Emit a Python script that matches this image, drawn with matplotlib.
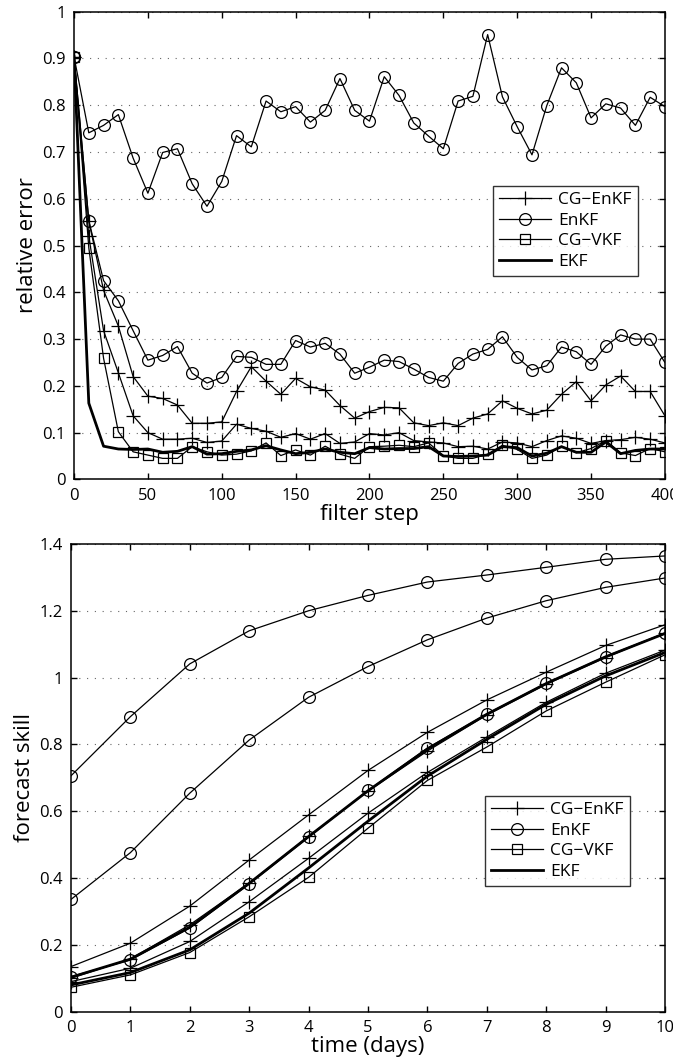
import matplotlib
matplotlib.use('Agg')
import matplotlib.pyplot as plt
import numpy as np

plt.rcParams['font.family'] = ['Open Sans', 'DejaVu Sans']

# ---- top panel: relative error vs filter step ----
steps = np.arange(0, 401, 10)

enkf_a = [0.904, 0.741, 0.757, 0.780, 0.687, 0.612, 0.699, 0.707, 0.632, 0.584,
          0.637, 0.735, 0.711, 0.809, 0.786, 0.797, 0.764, 0.789, 0.857, 0.789,
          0.766, 0.861, 0.821, 0.762, 0.734, 0.707, 0.809, 0.819, 0.951, 0.818,
          0.754, 0.694, 0.799, 0.880, 0.848, 0.773, 0.803, 0.794, 0.757, 0.817,
          0.797]
enkf_b = [0.904, 0.553, 0.425, 0.382, 0.318, 0.255, 0.265, 0.284, 0.227, 0.206,
          0.218, 0.263, 0.261, 0.246, 0.246, 0.297, 0.283, 0.291, 0.268, 0.227,
          0.240, 0.255, 0.252, 0.236, 0.218, 0.210, 0.248, 0.268, 0.278, 0.305,
          0.261, 0.234, 0.243, 0.283, 0.273, 0.246, 0.285, 0.309, 0.300, 0.300,
          0.250]
cgenkf_a = [0.904, 0.553, 0.404, 0.328, 0.220, 0.178, 0.173, 0.159, 0.120, 0.120,
            0.123, 0.188, 0.241, 0.210, 0.182, 0.216, 0.198, 0.191, 0.158, 0.131,
            0.145, 0.154, 0.153, 0.121, 0.115, 0.121, 0.115, 0.131, 0.140, 0.168,
            0.152, 0.140, 0.148, 0.182, 0.209, 0.168, 0.202, 0.221, 0.188, 0.188,
            0.136]
cgenkf_b = [0.904, 0.520, 0.318, 0.228, 0.136, 0.100, 0.086, 0.086, 0.088, 0.079,
            0.082, 0.118, 0.109, 0.103, 0.090, 0.098, 0.086, 0.098, 0.077, 0.080,
            0.098, 0.095, 0.100, 0.083, 0.080, 0.078, 0.070, 0.071, 0.065, 0.080,
            0.078, 0.070, 0.083, 0.093, 0.088, 0.077, 0.083, 0.085, 0.090, 0.086,
            0.078]
cgvkf = [0.904, 0.495, 0.259, 0.102, 0.059, 0.052, 0.045, 0.045, 0.070, 0.059,
         0.052, 0.054, 0.061, 0.078, 0.051, 0.063, 0.052, 0.071, 0.054, 0.045,
         0.070, 0.071, 0.073, 0.070, 0.078, 0.051, 0.045, 0.045, 0.054, 0.073,
         0.064, 0.045, 0.052, 0.071, 0.057, 0.066, 0.083, 0.057, 0.051, 0.066,
         0.059]
ekf = [0.904, 0.163, 0.071, 0.065, 0.064, 0.065, 0.058, 0.060, 0.070, 0.054,
       0.055, 0.060, 0.063, 0.072, 0.063, 0.055, 0.058, 0.065, 0.058, 0.055,
       0.068, 0.065, 0.066, 0.066, 0.070, 0.050, 0.049, 0.050, 0.052, 0.070,
       0.068, 0.050, 0.056, 0.070, 0.058, 0.058, 0.080, 0.055, 0.062, 0.065,
       0.065]

# ---- bottom panel: forecast skill vs lead time ----
days = np.arange(0, 11)

fc_enkf_a = [0.706, 0.883, 1.041, 1.140, 1.200, 1.246, 1.286, 1.307, 1.330, 1.354, 1.364]
fc_enkf_b = [0.336, 0.476, 0.654, 0.813, 0.941, 1.033, 1.113, 1.178, 1.230, 1.270, 1.298]
fc_enkf_c = [0.105, 0.155, 0.250, 0.382, 0.522, 0.662, 0.789, 0.891, 0.983, 1.063, 1.133]
fc_cgenkf_a = [0.135, 0.205, 0.316, 0.454, 0.589, 0.722, 0.836, 0.933, 1.016, 1.096, 1.158]
fc_cgenkf_b = [0.100, 0.158, 0.260, 0.385, 0.525, 0.660, 0.780, 0.888, 0.980, 1.060, 1.133]
fc_cgenkf_c = [0.090, 0.130, 0.210, 0.329, 0.459, 0.594, 0.716, 0.822, 0.926, 1.013, 1.082]
fc_cgvkf = [0.073, 0.110, 0.177, 0.284, 0.402, 0.549, 0.692, 0.792, 0.900, 0.986, 1.068]
fc_ekf_a = [0.103, 0.157, 0.253, 0.384, 0.524, 0.661, 0.786, 0.890, 0.982, 1.062, 1.132]
fc_ekf_b = [0.080, 0.117, 0.185, 0.295, 0.430, 0.570, 0.705, 0.815, 0.920, 1.005, 1.075]

labels = ['CG\u2212EnKF', 'EnKF', 'CG\u2212VKF', 'EKF']

thin = dict(color='black', lw=0.9, mfc='none', mec='black', mew=0.9)
thick = dict(color='black', lw=2.0)
leg_kw = dict(loc='upper left', fontsize=12.5, frameon=True, fancybox=False,
              edgecolor='black', handlelength=3.0, borderpad=0.35,
              labelspacing=0.25, handletextpad=0.4, borderaxespad=0)

fig = plt.figure(figsize=(6.73, 10.63), dpi=100)
ax1 = fig.add_axes([0.110, 0.549, 0.878, 0.440])
ax2 = fig.add_axes([0.1055, 0.0483, 0.8825, 0.440])

# top
h1, = ax1.plot(steps, cgenkf_a, marker='+', ms=10, **thin)
h2, = ax1.plot(steps, enkf_a, marker='o', ms=8.5, **thin)
ax1.plot(steps, enkf_b, marker='o', ms=8.5, **thin)
ax1.plot(steps, cgenkf_b, marker='+', ms=10, **thin)
h3, = ax1.plot(steps, cgvkf, marker='s', ms=6.5, **thin)
h4, = ax1.plot(steps, ekf, **thick)

ax1.set_xlim(0, 400)
ax1.set_ylim(0, 1)
ax1.set_xticks(np.arange(0, 401, 50))
ax1.set_yticks(np.arange(0, 1.01, 0.1))
ax1.set_yticklabels(['0', '0.1', '0.2', '0.3', '0.4', '0.5', '0.6', '0.7', '0.8', '0.9', '1'])
ax1.set_xlabel('filter step', fontsize=16, labelpad=0)
ax1.set_ylabel('relative error', fontsize=16, labelpad=3)
ax1.legend([h1, h2, h3, h4], labels, bbox_to_anchor=(0.709, 0.627), **leg_kw)

# bottom
g1, = ax2.plot(days, fc_cgenkf_a, marker='+', ms=10, **thin)
g2, = ax2.plot(days, fc_enkf_a, marker='o', ms=8.5, **thin)
ax2.plot(days, fc_enkf_b, marker='o', ms=8.5, **thin)
g4, = ax2.plot(days, fc_ekf_a, **thick)
ax2.plot(days, fc_enkf_c, marker='o', ms=8.5, **thin)
ax2.plot(days, fc_cgenkf_b, marker='+', ms=10, **thin)
ax2.plot(days, fc_cgenkf_c, marker='+', ms=10, **thin)
ax2.plot(days, fc_ekf_b, **thick)
g3, = ax2.plot(days, fc_cgvkf, marker='s', ms=6.5, **thin)

ax2.set_xlim(0, 10)
ax2.set_ylim(0, 1.4)
ax2.set_xticks(days)
ax2.set_yticks(np.arange(0, 1.41, 0.2))
ax2.set_yticklabels(['0', '0.2', '0.4', '0.6', '0.8', '1', '1.2', '1.4'])
ax2.set_xlabel('time (days)', fontsize=16, labelpad=0)
ax2.set_ylabel('forecast skill', fontsize=16, labelpad=3)
ax2.legend([g1, g2, g3, g4], labels, bbox_to_anchor=(0.697, 0.461), **leg_kw)

for ax in (ax1, ax2):
    ax.grid(axis='y', linestyle=(0, (1, 6)), color='#666666', lw=0.8)
    ax.tick_params(direction='in', top=True, right=True, length=4, width=1,
                   labelsize=12, pad=6)
    for s in ax.spines.values():
        s.set_linewidth(1.1)
    ax.set_axisbelow(True)

fig.savefig('out.png', dpi=100)
